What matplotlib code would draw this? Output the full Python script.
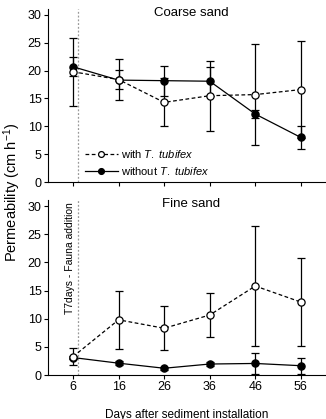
import matplotlib
matplotlib.use("Agg")
import matplotlib.pyplot as plt
from matplotlib.lines import Line2D
import numpy as np

plt.rcParams['font.family'] = ['Liberation Sans', 'DejaVu Sans']
plt.rcParams['mathtext.fontset'] = 'custom'
plt.rcParams['mathtext.rm'] = 'Liberation Sans'
plt.rcParams['mathtext.it'] = 'Liberation Sans:italic'

days = [6, 16, 26, 36, 46, 56]
xticklabels = ['6', '16', '26', '36', '46', '56']

# Coarse sand
coarse_with = [19.8, 18.4, 14.3, 15.5, 15.7, 16.6]
coarse_with_lo = [0.8, 1.7, 4.3, 6.3, 9.1, 8.7]
coarse_with_hi = [2.65, 1.7, 4.3, 6.3, 9.1, 8.7]
coarse_without = [20.7, 18.3, 18.2, 18.1, 12.2, 8.0]
coarse_without_lo = [7.1, 3.6, 2.7, 2.6, 0.7, 2.0]
coarse_without_hi = [5.2, 3.8, 2.7, 2.6, 0.7, 2.0]

# Fine sand
fine_with = [3.25, 9.8, 8.3, 10.65, 15.8, 12.95]
fine_with_err = [1.5, 5.2, 3.9, 3.9, 10.7, 7.8]
fine_without = [3.1, 2.1, 1.2, 1.95, 2.05, 1.65]
fine_without_err = [0.3, 0.3, 0.3, 0.3, 1.85, 1.45]

fauna_day = 7

fig = plt.figure(figsize=(3.26, 4.19), dpi=100)
ax1 = fig.add_axes([0.147, 0.5656, 0.85, 0.412])
ax2 = fig.add_axes([0.147, 0.105, 0.85, 0.4167])

lw = 0.9
common = dict(capsize=3.2, elinewidth=lw, capthick=lw, markersize=5.2,
              markeredgewidth=0.9, color='black', ecolor='black')

for ax in (ax1, ax2):
    ax.axvline(fauna_day, color='#999999', ls=(0, (1.5, 1.5)), lw=0.9, zorder=0)

ax1.errorbar(days, coarse_without, yerr=[coarse_without_lo, coarse_without_hi],
             fmt='-o', lw=lw, markerfacecolor='black', zorder=3, **common)
ax1.errorbar(days, coarse_with, yerr=[coarse_with_lo, coarse_with_hi],
             fmt='--o', lw=lw, markerfacecolor='white', dashes=(3, 2),
             zorder=4, **common)

ax2.errorbar(days, fine_without, yerr=fine_without_err,
             fmt='-o', lw=lw, markerfacecolor='black', zorder=3, **common)
ax2.errorbar(days, fine_with, yerr=fine_with_err,
             fmt='--o', lw=lw, markerfacecolor='white', dashes=(3, 2), zorder=4, **common)

for ax in (ax1, ax2):
    ax.set_xlim(0.5, 61.3)
    ax.set_ylim(0, 31)
    ax.set_yticks([0, 5, 10, 15, 20, 25, 30])
    ax.set_xticks(days)
    ax.spines['top'].set_visible(False)
    ax.spines['right'].set_visible(False)
    ax.tick_params(direction='out', length=3, width=0.8, labelsize=9, pad=1.5)

ax1.set_xticklabels([])
ax2.set_xticklabels(xticklabels)

ax1.text(32, 30.3, 'Coarse sand', ha='center', va='center', fontsize=9.5)
ax2.text(32, 30.3, 'Fine sand', ha='center', va='center', fontsize=9.5)

ax2.text(5.3, 30.6, 'T7days - Fauna addition', rotation=90, ha='center', va='top',
         fontsize=7.5)

h_with = Line2D([], [], color='black', lw=lw, ls='--', dashes=(3, 2), marker='o',
                markersize=4.2, markerfacecolor='white', markeredgewidth=0.9)
h_without = Line2D([], [], color='black', lw=lw, ls='-', marker='o',
                   markersize=4.2, markerfacecolor='black', markeredgewidth=0.9)
ax1.legend([h_with, h_without], ['with $\\it{T.\\ tubifex}$', 'without $\\it{T.\\ tubifex}$'],
           loc='lower left', bbox_to_anchor=(0.1, -0.02),
           frameon=False, fontsize=8, handlelength=3.0, handletextpad=0.25,
           borderpad=0.3, labelspacing=0.45)

ax2.set_xlabel('Days after sediment installation', fontsize=8.5, labelpad=11)
fig.text(0.036, 0.542, 'Permeability (cm h$^{-1}$)', rotation=90, ha='center',
         va='center', fontsize=10.5)

fig.savefig('out.png', dpi=100)
